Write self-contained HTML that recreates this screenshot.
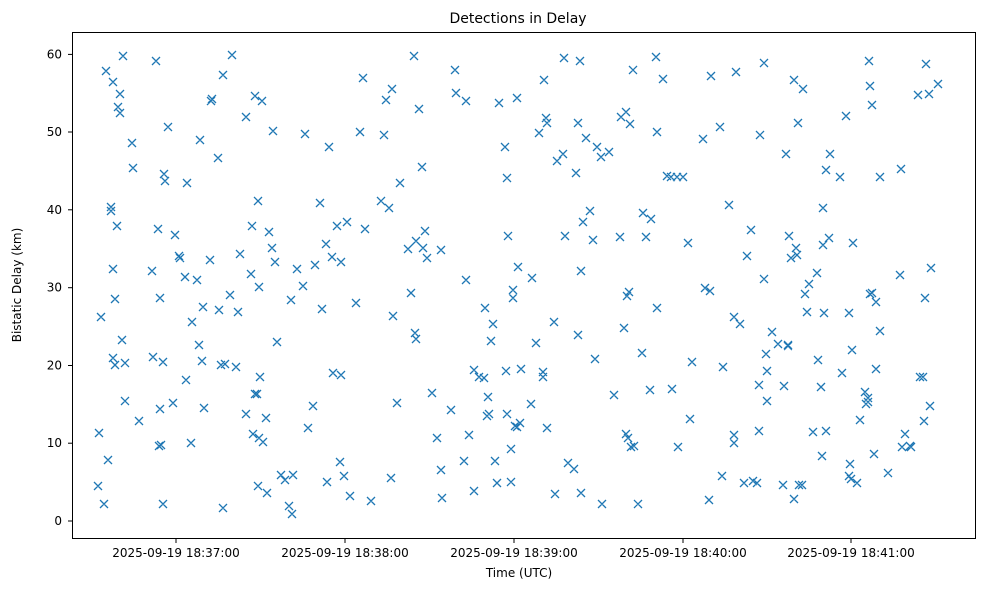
<!DOCTYPE html>
<html><head><meta charset="utf-8"><style>
html,body{margin:0;padding:0;background:#fff;}
svg{display:block;font-family:"DejaVu Sans","Liberation Sans",sans-serif;}
</style></head><body>
<svg id="s" width="989" height="590" viewBox="0 0 989 590" xmlns="http://www.w3.org/2000/svg">
<rect x="0" y="0" width="989" height="590" fill="#fff"/>
<text x="518" y="23" font-size="14" text-anchor="middle" fill="#000">Detections in Delay</text>
<path id="m" fill="none" stroke="#1f77b4" stroke-width="1.3" d=""/>
<rect x="72.5" y="32.5" width="903" height="506" fill="none" stroke="#000" stroke-width="1"/>
<g font-size="12" fill="#000" text-anchor="end">
<text x="62" y="525">0</text>
<text x="62" y="447">10</text>
<text x="62" y="369.5">20</text>
<text x="62" y="291.7">30</text>
<text x="62" y="214">40</text>
<text x="62" y="136">50</text>
<text x="62" y="58.4">60</text>
</g>
<g stroke="#000" stroke-width="1">
<line x1="68" x2="72" y1="521" y2="521"/><line x1="68" x2="72" y1="443.2" y2="443.2"/><line x1="68" x2="72" y1="365.5" y2="365.5"/><line x1="68" x2="72" y1="287.7" y2="287.7"/><line x1="68" x2="72" y1="209.8" y2="209.8"/><line x1="68" x2="72" y1="132" y2="132"/><line x1="68" x2="72" y1="54.4" y2="54.4"/>
<line x1="176" x2="176" y1="539" y2="543"/><line x1="345" x2="345" y1="539" y2="543"/><line x1="514" x2="514" y1="539" y2="543"/><line x1="683" x2="683" y1="539" y2="543"/><line x1="851" x2="851" y1="539" y2="543"/>
</g>
<g font-size="12" fill="#000" text-anchor="middle">
<text x="176" y="557">2025-09-19 18:37:00</text>
<text x="345" y="557">2025-09-19 18:38:00</text>
<text x="514" y="557">2025-09-19 18:39:00</text>
<text x="683" y="557">2025-09-19 18:40:00</text>
<text x="851" y="557">2025-09-19 18:41:00</text>
</g>
<text x="519" y="577" font-size="12" text-anchor="middle">Time (UTC)</text>
<text transform="translate(21,285) rotate(-90)" font-size="12" text-anchor="middle">Bistatic Delay (km)</text>
</svg>
<script>
var p=[98,486,101,317,99,433,104,504,106,71,108,460,111,207,111,211,113,82,113,269,115,299,113,358,115,365,117,226,118,107,120,113,120,94,122,340,123,56,125,401,125,363,132,143,133,168,139,421,152,271,153,357,156,61,158,229,159,446,160,298,160,409,161,445,163,362,163,504,164,174,165,181,168,127,173,403,175,235,179,256,180,258,185,277,186,380,187,183,191,443,192,322,197,280,199,345,200,140,202,361,203,307,204,408,210,260,211,101,212,99,218,158,219,310,221,365,223,75,223,508,225,364,230,295,232,55,236,367,238,312,240,254,246,117,246,414,251,274,252,226,253,434,255,96,255,394,257,394,258,486,258,201,259,438,259,287,260,377,262,101,263,442,266,418,267,493,269,232,272,248,273,131,275,262,277,342,281,475,285,480,289,506,291,300,292,514,293,475,297,269,303,286,305,134,308,428,313,406,315,265,320,203,322,309,326,244,327,482,329,147,332,257,333,373,337,226,340,462,341,262,341,375,344,476,347,222,350,496,356,303,360,132,363,78,365,229,371,501,381,201,384,135,386,100,389,208,391,478,392,89,393,316,397,403,400,183,408,249,411,293,414,56,415,333,416,241,416,339,419,109,422,167,423,248,425,231,427,258,432,393,437,438,441,470,442,498,441,250,451,410,455,70,456,93,464,461,466,101,466,280,469,435,474,491,474,370,479,377,484,378,487,416,485,308,488,397,489,414,491,341,493,324,495,461,497,483,499,103,506,371,505,147,507,414,508,236,507,178,511,482,511,449,513,290,513,298,515,426,517,427,517,98,518,267,520,423,521,369,531,404,532,278,536,343,539,133,543,377,543,372,544,80,546,118,547,428,547,123,554,322,555,494,557,161,563,154,564,58,565,236,568,463,574,469,576,173,578,123,578,335,580,61,581,271,581,493,583,222,586,138,590,211,593,240,595,359,597,147,601,157,602,504,609,152,614,395,620,237,621,117,624,328,626,112,626,434,627,296,628,438,629,292,630,124,631,447,633,70,634,446,638,504,642,353,643,213,646,237,650,390,651,219,656,57,657,308,657,132,663,79,667,176,671,177,672,389,677,177,678,447,683,177,688,243,690,419,692,362,703,139,705,288,709,500,710,291,711,76,720,127,722,476,723,367,729,205,734,317,734,443,734,435,736,72,740,324,744,483,747,256,751,230,753,481,757,483,759,431,759,385,760,135,764,63,764,279,766,354,767,401,767,371,772,332,778,344,783,485,784,386,786,154,788,345,788,346,789,236,791,258,794,80,794,499,796,248,797,255,798,123,799,485,802,485,803,89,805,294,807,312,809,284,813,432,817,273,818,360,821,387,822,456,823,245,824,313,823,208,826,170,826,431,829,238,830,154,840,177,842,373,846,116,849,476,849,313,850,464,851,479,852,350,853,243,857,483,860,420,865,392,866,404,868,402,868,398,869,61,870,294,870,86,872,105,872,293,874,454,876,302,876,369,880,177,880,331,888,473,900,275,901,169,902,447,905,434,910,446,911,447,918,95,920,377,923,377,924,421,925,298,926,64,929,94,930,406,931,268,938,84];
var d="";for(var i=0;i<p.length;i+=2){var x=p[i],y=p[i+1];d+="M"+(x-4)+","+(y-4)+"l8,8m0,-8l-8,8";}
document.getElementById("m").setAttribute("d",d);
</script>
</body></html>
